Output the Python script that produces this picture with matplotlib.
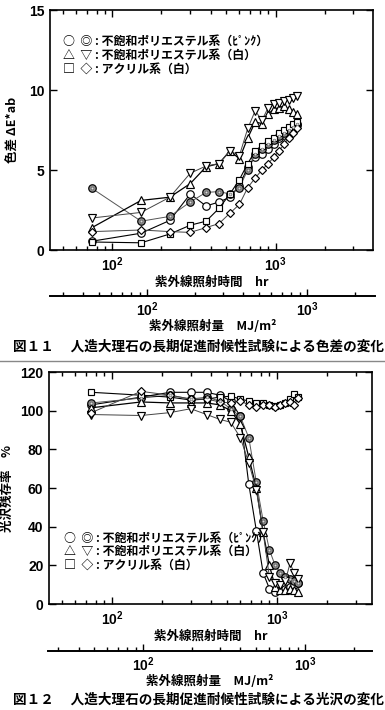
import matplotlib
matplotlib.use('Agg')
import matplotlib.pyplot as plt
from matplotlib.ticker import LogLocator, NullFormatter

plt.rcParams['font.family'] = ['Liberation Sans', 'Noto Sans CJK JP', 'DejaVu Sans']
plt.rcParams['font.weight'] = 'bold'
plt.rcParams['mathtext.fontset'] = 'custom'
plt.rcParams['mathtext.rm'] = 'Liberation Sans:bold'
plt.rcParams['mathtext.bf'] = 'Liberation Sans:bold'
plt.rcParams['mathtext.it'] = 'Liberation Sans:bold'

# ---------------- data ----------------
hours = [75, 150, 225, 300, 375, 450, 525, 600, 675, 750, 825, 900, 975, 1050, 1125, 1200, 1275, 1350]

# Fig.11 colour difference dE*ab
de_pink_open = [0.55, 1.05, 1.85, 3.5, 2.75, 3.0, 3.3, 4.0, 5.2, 5.8, 6.0, 6.3, 6.6, 7.0, 7.2, 7.4, 7.6, 7.8]
de_pink_dbl = [3.85, 1.8, 2.1, 3.0, 3.6, 3.65, 3.5, 3.9, 5.0, 6.0, 6.3, 6.6, 6.9, 7.1, 7.3, 7.5, 7.7, 7.9]
de_white_up = [1.4, 3.1, 3.3, 4.15, 5.2, 5.4, 6.2, 5.7, 7.0, 8.0, 7.9, 8.5, 8.8, 8.9, 9.0, 8.8, 8.6, 8.5]
de_white_dn = [2.0, 2.35, 3.3, 4.8, 5.25, 5.4, 6.2, 5.9, 7.6, 8.7, 8.1, 8.9, 9.1, 9.2, 9.3, 9.4, 9.5, 9.6]
de_acr_sq = [0.5, 0.45, 1.0, 1.55, 1.8, 2.6, 3.5, 4.4, 5.4, 6.2, 6.5, 6.8, 7.0, 7.3, 7.5, 7.7, 7.9, 8.0]
de_acr_dia = [1.15, 1.25, 1.15, 1.1, 1.4, 1.65, 2.3, 2.85, 3.9, 4.5, 5.0, 5.4, 5.8, 6.2, 6.6, 7.0, 7.3, 7.6]

# Fig.12 gloss retention %
gl_pink_open = [103, 107, 109.5, 109.5, 109.5, 108, 105, 97, 62, 38, 16, 8, 6, 7, 8, 9, 10, 11]
gl_pink_dbl = [104, 106.5, 108, 106, 107, 105, 101, 97, 86, 63, 43, 28, 20, 16, 14, 13, 12, 11]
gl_white_up = [101.5, 104.5, 104, 104, 104, 103, 100, 93, 76, 60, 37, 20, 9, 7, 7, 8, 7, 6]
gl_white_dn = [98, 97.5, 99, 101, 98, 95.5, 94, 86, 73, 59, 37, 14, 11, 10, 12, 21, 16, 13]
gl_acr_sq = [109.5, 108, 107, 105.5, 106, 107, 107.5, 106, 105, 104, 104, 103, 102.5, 103, 104, 106, 108.5, 107]
gl_acr_dia = [99, 110, 108, 106, 106, 104.5, 104, 105, 103, 102, 103, 103, 102, 103, 104, 104.5, 103, 106.5]

legend_lines = ['○  ◎ : 不飽和ポリエステル系（ﾋﾟﾝｸ）',
                '△  ▽ : 不飽和ポリエステル系（白）',
                '□  ◇ : アクリル系（白）']

CJK = ['Noto Sans CJK JP', 'DejaVu Sans']

W, H = 385, 710
fig = plt.figure(figsize=(W / 100, H / 100), dpi=100)


def fx(px):
    return px / W


def fy(px):
    return 1 - px / H


def draw_series(ax, ys_list):
    styles = [
        dict(marker='o', color='black', lw=0.8, ms=5.4),
        dict(marker='o', color='#555555', lw=0.7, ms=5.4),
        dict(marker='^', color='black', lw=0.9, ms=5.6),
        dict(marker='v', color='#444444', lw=0.7, ms=5.6),
        dict(marker='s', color='black', lw=0.8, ms=5.0),
        dict(marker='D', color='#444444', lw=0.7, ms=4.2),
    ]
    for i, (ys, st) in enumerate(zip(ys_list, styles)):
        mfc = '#8c8c8c' if i == 1 else 'white'
        ax.plot(hours, ys, marker=st['marker'], color=st['color'], lw=st['lw'],
                ms=st['ms'], mfc=mfc, mec='black', mew=0.85, zorder=3)
        if i == 1:
            ax.plot(hours, ys, ls='none', marker='o', ms=2.0, mfc='#dddddd',
                    mec='#555555', mew=0.4, zorder=4)


def style_main(ax, xlim, ylim, yticks):
    ax.set_xscale('log')
    ax.set_xlim(*xlim)
    ax.set_ylim(*ylim)
    ax.set_yticks(yticks)
    ax.xaxis.set_major_locator(LogLocator(base=10, numticks=10))
    ax.xaxis.set_minor_locator(LogLocator(base=10, subs=range(2, 10), numticks=20))
    ax.xaxis.set_minor_formatter(NullFormatter())
    ax.tick_params(which='both', direction='in', top=True, right=True, width=1.0)
    ax.tick_params(which='major', length=5, labelsize=10, pad=4)
    ax.tick_params(which='minor', length=3)
    for s in ax.spines.values():
        s.set_linewidth(1.2)


def secondary(bottom_px, left_px, right_px, xlim, label):
    sa = fig.add_axes([fx(left_px), fy(bottom_px), fx(right_px - left_px), 0.0005])
    sa.set_xscale('log')
    sa.set_xlim(*xlim)
    sa.set_yticks([])
    for k in ('top', 'left', 'right'):
        sa.spines[k].set_visible(False)
    sa.spines['bottom'].set_linewidth(1.4)
    sa.patch.set_alpha(0)
    sa.xaxis.set_major_locator(LogLocator(base=10, numticks=10))
    sa.xaxis.set_minor_locator(LogLocator(base=10, subs=range(2, 10), numticks=20))
    sa.xaxis.set_minor_formatter(NullFormatter())
    sa.tick_params(which='both', direction='in', width=1.0)
    sa.tick_params(which='major', length=5, labelsize=10, pad=3)
    sa.tick_params(which='minor', length=3)
    sa.set_xlabel(label, fontsize=9, labelpad=0.5, family=CJK, fontweight='bold')
    return sa


# ---------------- Fig.11 ----------------
ax1 = fig.add_axes([fx(50), fy(250), fx(323), fy(10) - fy(250)])
draw_series(ax1, [de_pink_open, de_pink_dbl, de_white_up, de_white_dn, de_acr_sq, de_acr_dia])
style_main(ax1, (41.5, 3950), (0, 15), [0, 5, 10, 15])
ax1.set_xlabel('紫外線照射時間　hr', fontsize=9, labelpad=1, family=CJK, fontweight='bold')
ax1.set_ylabel('色差 ΔE*ab', fontsize=9, family=CJK, fontweight='bold')
ax1.yaxis.set_label_coords(-0.095, 0.5)
for i, t in enumerate(legend_lines):
    ax1.text(0.04, 0.87 - i * 0.058, t, transform=ax1.transAxes, fontsize=8.6,
             va='center', ha='left', family=CJK, fontweight='bold')
secondary(296, 50, 375, (24.8, 2660), '紫外線照射量　MJ/m²')
fig.text(fx(13), fy(347), '図１１　 人造大理石の長期促進耐候性試験による色差の変化',
         fontsize=9.8, va='center', ha='left', family=CJK, fontweight='bold')

# separator
fig.add_artist(plt.Line2D([0, 1], [fy(361), fy(361)], color='#888888', lw=1.0))

# ---------------- Fig.12 ----------------
ax2 = fig.add_axes([fx(49), fy(604), fx(323), fy(372) - fy(604)])
draw_series(ax2, [gl_pink_open, gl_pink_dbl, gl_white_up, gl_white_dn, gl_acr_sq, gl_acr_dia])
style_main(ax2, (41.5, 3770), (0, 120), [0, 20, 40, 60, 80, 100, 120])
ax2.set_xlabel('紫外線照射時間　hr', fontsize=9, labelpad=1, family=CJK, fontweight='bold')
ax2.set_ylabel('光沢残存率　%', fontsize=9, family=CJK, fontweight='bold')
ax2.yaxis.set_label_coords(-0.11, 0.5)
for i, t in enumerate(legend_lines):
    ax2.text(0.045, 0.285 - i * 0.058, t, transform=ax2.transAxes, fontsize=8.6,
             va='center', ha='left', family=CJK, fontweight='bold')
secondary(651, 48, 372, (25.9, 2595), '紫外線照射量　MJ/m²')
fig.text(fx(13), fy(700), '図１２　 人造大理石の長期促進耐候性試験による光沢の変化',
         fontsize=9.8, va='center', ha='left', family=CJK, fontweight='bold')

fig.savefig('out.png', dpi=100)
